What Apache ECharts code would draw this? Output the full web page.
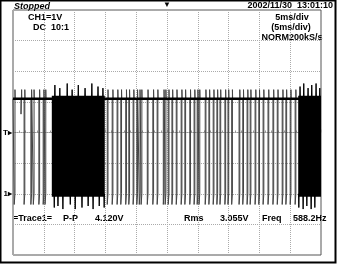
<!DOCTYPE html>
<html><head><meta charset="utf-8">
<script src="https://cdn.jsdelivr.net/npm/echarts@6/dist/echarts.min.js"></script>
<style>html,body{margin:0;padding:0;background:#fff}#c{width:337px;height:266px}</style>
</head><body><div id="c"></div>
<script>
const timeRangeMs = [-25, 25];      // 10 div x 5 ms/div
const voltRange = [-2, 6];          // 8 div x 1 V/div, ground at 2 div below centre
const HIGH_V = 3.1;
const LOW_V = 0.0;
const OVERSHOOT_V = 3.4;
const UNDERSHOOT_V = -0.35;
const pulseWidthMs = 0.12;
// falling-edge times of isolated low pulses (ms)
const pulseTimesMs = [-24.8, -23.2, -22.1, -21.7, -20.8, -20.1, -19.8,
  -9.7, -8.9, -8.1, -7.5, -6.7, -6.2, -5.5, -4.9, -4.5, -4.2, -3.2, -2.3, -1.6, -0.6, -0.3,
  0.2, 0.8, 1.5, 2.3, 2.9, 3.7, 4.4, 4.9, 5.2, 6.2, 6.8, 7.5, 8.1, 8.6, 9.4, 9.9,
  10.5, 11.7, 12.3, 13.0, 13.5, 14.3, 14.9, 15.6, 16.4, 17.2, 17.9, 18.7, 19.3, 20.0, 20.8];
// partial (runt) pulses: [time ms, lowest volt]
const runtPulses = [[-23.7, 2.6]];
// dense bursts where the trace fills solid: [start ms, end ms]
const burstRangesMs = [[-18.7, -10.1], [21.3, 25]];
// ringing spikes on the burst edges: [time ms, peak volt]
const burstTopSpikes = [[-18.2, 3.55], [-17.4, 3.45], [-16.2, 3.6], [-15.4, 3.4], [-14.4, 3.55], [-13.3, 3.45],
  [-12.2, 3.6], [-11.2, 3.5], [-10.4, 3.45], [21.6, 3.5], [22.2, 3.6], [22.9, 3.45], [23.5, 3.55], [24.2, 3.6], [24.8, 3.45]];
const burstBottomSpikes = [[-18.3, -0.45], [-17.7, -0.4], [-16.9, -0.5], [-15.7, -0.35], [-14.9, -0.5], [-13.8, -0.45],
  [-12.8, -0.4], [-12.0, -0.5], [-11.0, -0.4], [-10.2, -0.45], [21.4, -0.45], [22.1, -0.5], [22.7, -0.4], [23.4, -0.5], [24.0, -0.45]];
const headerLeft = 'Stopped';
const headerRight = '2002/11/30  13:01:10';
const chLabels = ['CH1=1V', 'DC  10:1'];
const tbLabels = ['5ms/div', '(5ms/div)', 'NORM200kS/s'];
const measLabels = ['=Trace1=', 'P-P', '4.120V', 'Rms', '3.055V', 'Freq', '588.2Hz'];

// ---- build waveform ----
const events = [];
pulseTimesMs.forEach(t => events.push({t: t, lo: LOW_V, w: pulseWidthMs}));
runtPulses.forEach(r => events.push({t: r[0], lo: r[1], w: 0.1}));
events.sort((a, b) => a.t - b.t);
const wave = [[timeRangeMs[0], HIGH_V]];
events.forEach(e => {
  const u = e.lo === LOW_V ? UNDERSHOOT_V : e.lo;
  wave.push([e.t, HIGH_V], [e.t, u], [e.t + e.w, e.lo], [e.t + e.w, OVERSHOOT_V], [e.t + e.w + 0.04, HIGH_V]);
});
wave.push([timeRangeMs[1], HIGH_V]);
const baseline = [[timeRangeMs[0], HIGH_V], [timeRangeMs[1], HIGH_V]];
// one spike polyline per burst, so the edge baseline never leaves the burst block
const spikeSeries = [];
burstRangesMs.forEach(r => {
  [[burstTopSpikes, HIGH_V], [burstBottomSpikes, LOW_V]].forEach(([spikes, base]) => {
    const pts = [];
    spikes.filter(s => s[0] >= r[0] && s[0] <= r[1])
      .forEach(s => pts.push([s[0] - 0.06, base], [s[0], s[1]], [s[0] + 0.06, base]));
    spikeSeries.push({type: 'line', data: pts, symbol: 'none', lineStyle: {color: '#000', width: 1}, z: 6});
  });
});

const chart = echarts.init(document.getElementById('c'), null, {renderer: 'canvas'});
const F = 'Liberation Sans, Arial, sans-serif';
const FONT = 'bold 9px ' + F;
const txt = (x, y, s, align) => ({type: 'text', x: x, y: y, style: {text: s, font: FONT, fill: '#000', align: align || 'left'}});
chart.setOption({
  animation: false,
  backgroundColor: '#fff',
  grid: {left: 13, right: 16, top: 10, bottom: 11, show: true, borderColor: '#555', borderWidth: 1, backgroundColor: '#fff'},
  xAxis: [
    {type: 'value', min: timeRangeMs[0], max: timeRangeMs[1], interval: 5,
     axisLine: {show: true, onZero: true, onZeroAxisIndex: 1, lineStyle: {color: '#999', type: 'dotted'}},
     axisTick: {show: true, inside: true, length: 3, lineStyle: {color: '#999'}},
     minorTick: {show: true, splitNumber: 5, length: 2, lineStyle: {color: '#999'}},
     axisLabel: {show: false},
     splitLine: {show: true, lineStyle: {color: '#aaa', type: 'dotted'}}},
    {type: 'value', min: timeRangeMs[0], max: timeRangeMs[1], interval: 5, position: 'top',
     axisLine: {show: false}, axisTick: {show: false}, splitLine: {show: false},
     axisLabel: {show: true, margin: 1, fontSize: 8, color: '#000', formatter: v => v === 0 ? '▼' : ''}}
  ],
  yAxis: [
    {type: 'value', min: voltRange[0], max: voltRange[1], interval: 1,
     axisLine: {show: false}, axisTick: {show: false},
     axisLabel: {show: true, margin: 1, fontSize: 8, fontFamily: F, fontWeight: 'bold', color: '#000',
       formatter: v => v === 2 ? 'T▸' : (v === 0 ? '1▸' : '')},
     splitLine: {show: true, lineStyle: {color: '#aaa', type: 'dotted'}}},
    {type: 'value', min: -4, max: 4, show: false}
  ],
  graphic: [
    {type: 'rect', shape: {x: 0.5, y: 0.5, width: 335, height: 262}, style: {fill: 'none', stroke: '#000', lineWidth: 2}, silent: true, z: 100},
    {type: 'text', x: 14, y: 2, style: {text: headerLeft, font: 'italic bold 9px ' + F, fill: '#000'}},
    txt(333, 1, headerRight, 'right'),
    txt(28, 13, chLabels[0]), txt(33, 23, chLabels[1]),
    txt(292, 13, tbLabels[0], 'center'),
    txt(291, 23, tbLabels[1], 'center'),
    txt(292, 33, tbLabels[2], 'center'),
    txt(13, 214, measLabels[0]), txt(63, 214, measLabels[1]), txt(95, 214, measLabels[2]),
    txt(184, 214, measLabels[3]), txt(220, 214, measLabels[4]), txt(262, 214, measLabels[5]), txt(293, 214, measLabels[6])
  ],
  series: [{
    type: 'line', data: wave, symbol: 'none', xAxisIndex: 0, yAxisIndex: 0,
    lineStyle: {color: '#444', width: 1}, z: 5,
    markArea: {silent: true, itemStyle: {color: '#000'},
      data: burstRangesMs.map(r => [{coord: [r[0], LOW_V - 0.1]}, {coord: [r[1], HIGH_V + 0.1]}])}
  }, {
    type: 'line', data: baseline, symbol: 'none', lineStyle: {color: '#000', width: 2.5}, z: 6
  }].concat(spikeSeries)
});
</script></body></html>
